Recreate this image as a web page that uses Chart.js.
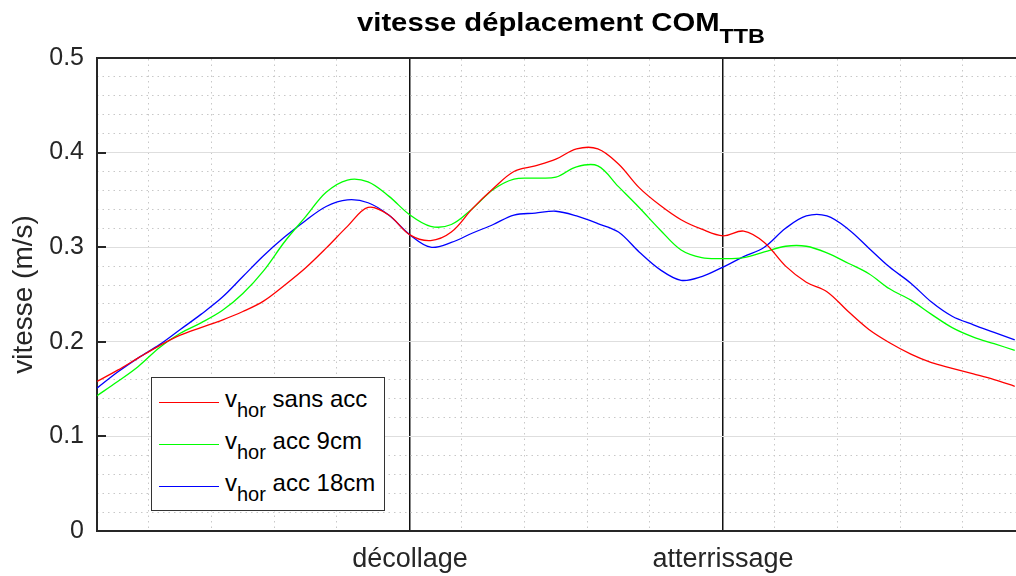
<!DOCTYPE html>
<html>
<head>
<meta charset="utf-8">
<script src="https://cdn.jsdelivr.net/npm/chart.js@4.4.1/dist/chart.umd.min.js"></script>
<style>
  html, body { margin: 0; padding: 0; background: #fff; }
  #wrap { position: relative; width: 1016px; height: 576px; overflow: hidden; font-family: "Liberation Sans", Arial, sans-serif; color: #000; }
  #chart { position: absolute; left: 0; top: 0; }
  #title { position: absolute; left: 561px; top: 10px; white-space: nowrap; font-weight: bold; font-size: 25px; line-height: 25px; transform: translateX(-50%) scaleX(1.17); }
  #title .sub { position: relative; top: 12px; font-size: 20px; }
  #legend { position: absolute; left: 151px; top: 377px; width: 234px; height: 134px; box-sizing: border-box; border: 1px solid #333; background: #fff; }
  #legend .item { position: absolute; left: 0; width: 100%; height: 42px; }
  #legend .swatch { position: absolute; left: 7px; width: 60px; top: 24px; border-top: 1.3px solid; }
  #legend .label { position: absolute; left: 73px; top: 0; white-space: nowrap; font-size: 24px; line-height: 42px; color: #000; }
  #legend .label .sub { position: relative; top: 10px; font-size: 20px; }
</style>
</head>
<body>
<div id="wrap">
  <canvas id="chart" width="1016" height="576"></canvas>
  <div id="title">vitesse déplacement COM<span class="sub">TTB</span></div>
  <div id="legend"></div>
</div>
<script>
// sample times (s), one point every two frames at 60 Hz
const times = [0.017, 0.050, 0.083, 0.117, 0.150, 0.183, 0.217, 0.250, 0.283, 0.317,
               0.350, 0.383, 0.417, 0.450, 0.483, 0.517, 0.550, 0.583, 0.617, 0.650,
               0.683, 0.717, 0.750, 0.783, 0.817, 0.850, 0.883, 0.917, 0.950, 0.983,
               1.017, 1.050, 1.083, 1.117, 1.150, 1.183, 1.217, 1.250, 1.283, 1.317,
               1.350, 1.383, 1.417, 1.450, 1.483];

// horizontal COM speed (m/s)
const vSansAcc = [0.158, 0.170, 0.183, 0.196, 0.207, 0.215, 0.223, 0.232, 0.243, 0.260,
                  0.278, 0.299, 0.322, 0.342, 0.334, 0.313, 0.307, 0.316, 0.341, 0.362,
                  0.380, 0.386, 0.393, 0.404, 0.404, 0.388, 0.363, 0.344, 0.329, 0.319,
                  0.312, 0.317, 0.305, 0.280, 0.263, 0.253, 0.232, 0.213, 0.199, 0.187,
                  0.178, 0.172, 0.166, 0.160, 0.153];
const vAcc9 = [0.143, 0.158, 0.174, 0.194, 0.209, 0.220, 0.233, 0.251, 0.275, 0.306,
               0.332, 0.358, 0.371, 0.369, 0.354, 0.334, 0.322, 0.324, 0.341, 0.361,
               0.372, 0.373, 0.374, 0.385, 0.386, 0.364, 0.342, 0.318, 0.297, 0.289,
               0.288, 0.289, 0.295, 0.301, 0.301, 0.294, 0.283, 0.272, 0.256, 0.244,
               0.229, 0.215, 0.205, 0.198, 0.191];
const vAcc18 = [0.151, 0.168, 0.183, 0.197, 0.213, 0.229, 0.247, 0.269, 0.291, 0.311,
                0.328, 0.343, 0.350, 0.347, 0.334, 0.313, 0.300, 0.305, 0.315, 0.324,
                0.334, 0.336, 0.338, 0.333, 0.325, 0.316, 0.295, 0.276, 0.265, 0.269,
                0.279, 0.290, 0.300, 0.320, 0.333, 0.333, 0.319, 0.299, 0.279, 0.262,
                0.242, 0.227, 0.218, 0.210, 0.202];

const seriesNames = ['sans acc', 'acc 9cm', 'acc 18cm'];
const seriesColors = ['#ff0000', '#00ff00', '#0000ff'];

// take-off / landing instants
const eventTimes = [0.517, 1.017];
const eventLabels = ['décollage', 'atterrissage'];

const yTicks = [0, 0.1, 0.2, 0.3, 0.4, 0.5];
const yTickLabels = ['0', '0.1', '0.2', '0.3', '0.4', '0.5'];
const yMinorTicks = [0.02, 0.04, 0.06, 0.08, 0.12, 0.14, 0.16, 0.18, 0.22, 0.24, 0.26, 0.28,
                     0.32, 0.34, 0.36, 0.38, 0.42, 0.44, 0.46, 0.48];
const xMinorTicks = [0.1, 0.2, 0.3, 0.4, 0.6, 0.7, 0.8, 0.9, 1.1, 1.2, 1.3, 1.4];

const X_MIN = 0.017;
const X_MAX = 1.485;
const FONT = '"Liberation Sans", Arial, sans-serif';
const AXIS_COLOR = '#262626';

const toPoints = (vals) => vals.map((v, i) => ({ x: times[i], y: v }));

const dotted = {
  color: '#c8c8c8',
  lineWidth: 1,
  drawTicks: false,
  borderDash: [1.5, 4],
};

// MATLAB-like inward tick marks on the left axis
const inwardTicks = {
  id: 'inwardTicks',
  afterDraw(chart) {
    const { ctx, chartArea, scales } = chart;
    ctx.save();
    ctx.strokeStyle = AXIS_COLOR;
    ctx.lineWidth = 2;
    scales.y.ticks.forEach((t) => {
      const py = Math.round(scales.y.getPixelForValue(t.value));
      ctx.beginPath();
      ctx.moveTo(chartArea.left, py);
      ctx.lineTo(chartArea.left + 9, py);
      ctx.stroke();
    });
    ctx.restore();
  }
};

const chart = new Chart(document.getElementById('chart'), {
  type: 'line',
  data: {
    datasets: [vSansAcc, vAcc9, vAcc18].map((vals, i) => ({
      label: 'v_hor ' + seriesNames[i],
      data: toPoints(vals),
      borderColor: seriesColors[i],
      backgroundColor: seriesColors[i],
      borderWidth: 1.3,
      pointRadius: 0,
      tension: 0.35,
      fill: false,
    }))
  },
  options: {
    responsive: false,
    devicePixelRatio: 1,
    animation: false,
    layout: { padding: { left: 0, right: 0, top: 58, bottom: 0 } },
    plugins: {
      legend: { display: false },
      tooltip: { enabled: false },
    },
    scales: {
      x: {
        type: 'linear',
        position: 'bottom',
        min: X_MIN,
        max: X_MAX,
        afterBuildTicks: (s) => { s.ticks = eventTimes.map((v) => ({ value: v })); },
        afterFit: (s) => { s.height = 45; },
        ticks: {
          autoSkip: false,
          maxRotation: 0,
          padding: 12,
          color: AXIS_COLOR,
          font: { family: FONT, size: 27 },
          callback: (v, i) => eventLabels[i],
        },
        grid: { color: '#111111', lineWidth: 1.5, drawTicks: false },
        border: { color: AXIS_COLOR, width: 2 },
      },
      xMinor: {
        type: 'linear',
        position: 'top',
        min: X_MIN,
        max: X_MAX,
        afterBuildTicks: (s) => { s.ticks = xMinorTicks.map((v) => ({ value: v })); },
        afterFit: (s) => { s.height = 0; },
        ticks: { display: false },
        grid: dotted,
        border: { display: true, color: AXIS_COLOR, width: 2, dash: [1.5, 4] },
      },
      y: {
        type: 'linear',
        position: 'left',
        min: 0,
        max: 0.5,
        afterBuildTicks: (s) => { s.ticks = yTicks.map((v) => ({ value: v })); },
        afterFit: (s) => { s.width = 97; },
        ticks: {
          padding: 13,
          color: AXIS_COLOR,
          font: { family: FONT, size: 25 },
          callback: (v, i) => yTickLabels[i],
        },
        grid: { color: '#dedede', lineWidth: 1, drawTicks: false },
        border: { color: AXIS_COLOR, width: 2 },
        title: {
          display: true,
          text: 'vitesse (m/s)',
          color: AXIS_COLOR,
          font: { family: FONT, size: 28 },
          padding: { top: 7, bottom: 0 },
        },
      },
      yMinor: {
        type: 'linear',
        position: 'left',
        min: 0,
        max: 0.5,
        afterBuildTicks: (s) => { s.ticks = yMinorTicks.map((v) => ({ value: v })); },
        afterFit: (s) => { s.width = 0; },
        ticks: { display: false },
        grid: dotted,
        border: { display: false, dash: [1.5, 4] },
      },
    }
  },
  plugins: [inwardTicks]
});

// legend with subscripted labels, built from the datasets
const legendBox = document.getElementById('legend');
chart.data.datasets.forEach((ds, i) => {
  const item = document.createElement('div');
  item.className = 'item';
  item.style.top = (42 * i) + 'px';
  const swatch = document.createElement('span');
  swatch.className = 'swatch';
  swatch.style.borderTopColor = ds.borderColor;
  const label = document.createElement('span');
  label.className = 'label';
  label.innerHTML = 'v<span class="sub">hor</span> ' + seriesNames[i];
  item.appendChild(swatch);
  item.appendChild(label);
  legendBox.appendChild(item);
});
</script>
</body>
</html>
